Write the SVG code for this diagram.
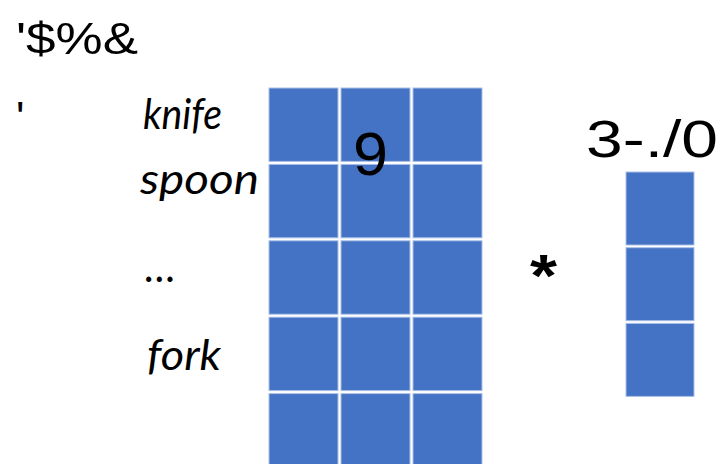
<svg xmlns="http://www.w3.org/2000/svg" width="720" height="464" viewBox="0 0 720 464">
  <style>
    .cell { fill: #4472C4; stroke: #A9BFE6; stroke-width: 1; }
    .sym { font-family: "Liberation Sans", "DejaVu Sans", sans-serif; fill: #000; }
    .lbl { font-family: Lato, "Open Sans", sans-serif; font-style: italic; fill: #000; font-size: 42px; }
  </style>
  <rect width="720" height="464" fill="#ffffff"/>
  <g id="title">
    <text class="sym" x="16" y="54" font-size="44" textLength="122" lengthAdjust="spacingAndGlyphs">'$%&amp;</text>
    <text class="sym" x="16" y="133" font-size="44">'</text>
  </g>
  <g id="labels">
    <text class="lbl" x="143" y="129" textLength="79" lengthAdjust="spacingAndGlyphs">knife</text>
    <text class="lbl" x="140" y="194" textLength="119" lengthAdjust="spacingAndGlyphs">spoon</text>
    <text class="lbl" x="145" y="282" textLength="31" lengthAdjust="spacingAndGlyphs">…</text>
    <text class="lbl" x="147" y="370" textLength="74" lengthAdjust="spacingAndGlyphs">fork</text>
  </g>
  <g id="matrix">
    <rect class="cell" x="269" y="88" width="69" height="73.4"/>
    <rect class="cell" x="341" y="88" width="69" height="73.4"/>
    <rect class="cell" x="413" y="88" width="69" height="73.4"/>
    <rect class="cell" x="269" y="164.4" width="69" height="73.4"/>
    <rect class="cell" x="341" y="164.4" width="69" height="73.4"/>
    <rect class="cell" x="413" y="164.4" width="69" height="73.4"/>
    <rect class="cell" x="269" y="240.8" width="69" height="73.4"/>
    <rect class="cell" x="341" y="240.8" width="69" height="73.4"/>
    <rect class="cell" x="413" y="240.8" width="69" height="73.4"/>
    <rect class="cell" x="269" y="317.2" width="69" height="73.4"/>
    <rect class="cell" x="341" y="317.2" width="69" height="73.4"/>
    <rect class="cell" x="413" y="317.2" width="69" height="73.4"/>
    <rect class="cell" x="269" y="393.6" width="69" height="73.4"/>
    <rect class="cell" x="341" y="393.6" width="69" height="73.4"/>
    <rect class="cell" x="413" y="393.6" width="69" height="73.4"/>
    <text class="sym" x="353" y="175" font-size="62" textLength="35" lengthAdjust="spacingAndGlyphs">9</text>
  </g>
  <g id="operator">
    <text class="sym" x="530" y="296" font-size="60" font-weight="bold" textLength="27" lengthAdjust="spacingAndGlyphs">*</text>
  </g>
  <g id="vector">
    <rect class="cell" x="626" y="172" width="68" height="73"/>
    <rect class="cell" x="626" y="247.7" width="68" height="73"/>
    <rect class="cell" x="626" y="323.4" width="68" height="73"/>
    <text class="sym" x="586" y="157" font-size="52" textLength="132" lengthAdjust="spacingAndGlyphs">3-./0</text>
  </g>
  <g id="connectors"/>
</svg>
